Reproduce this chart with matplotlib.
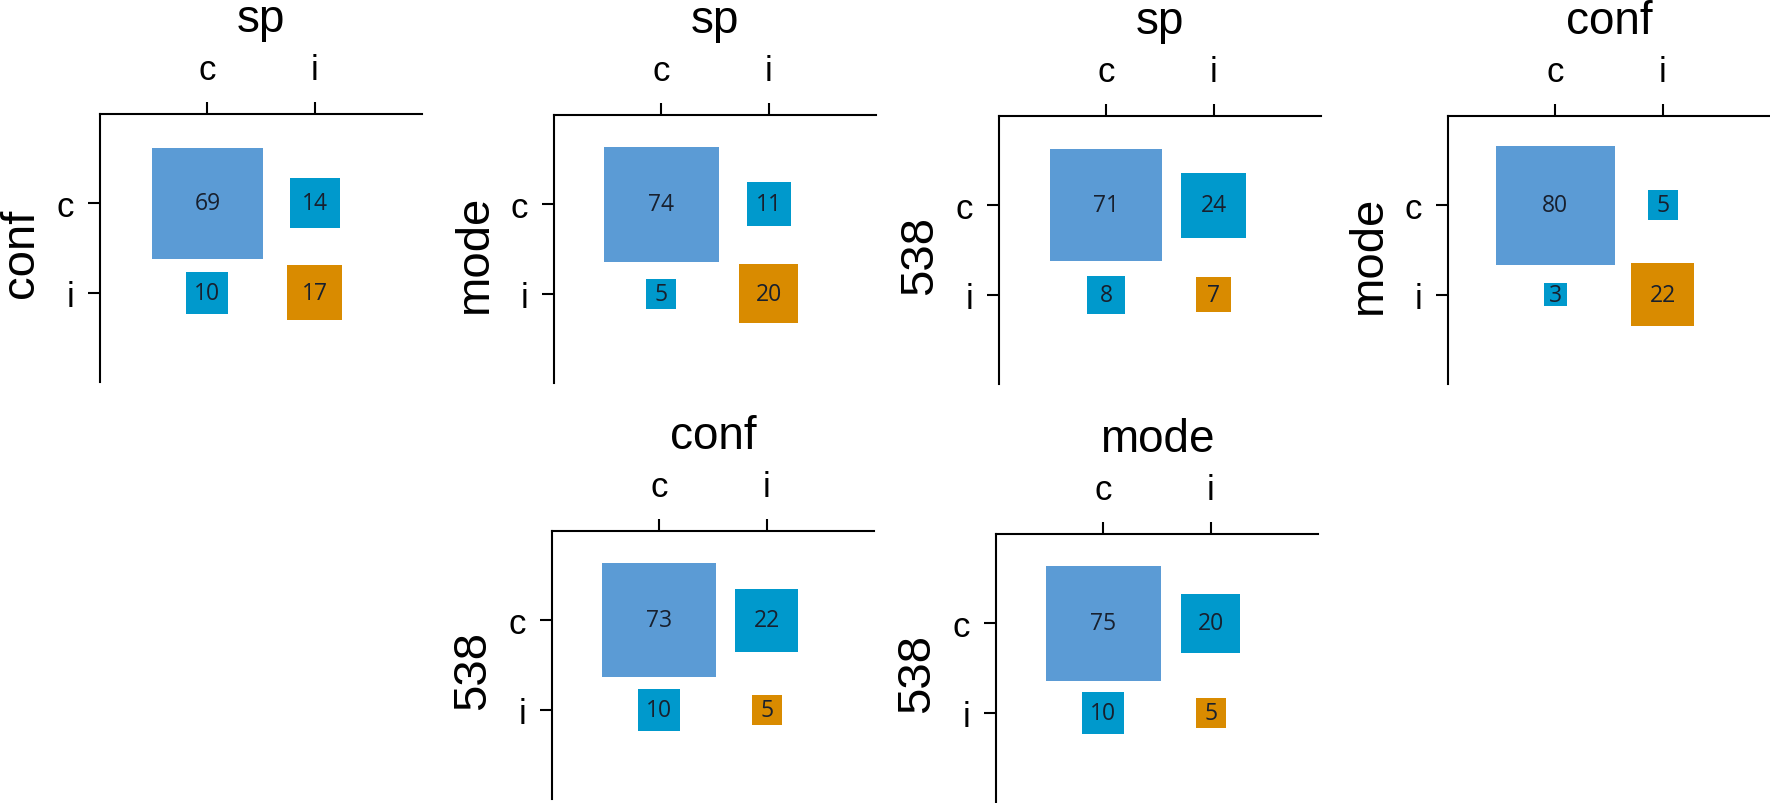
import matplotlib.pyplot as plt
import numpy as np

# categorie (c = correct, i = incorrect)
cats = ['c', 'i']

# kazdy panel: tytul (kolumny), etykieta y (wiersze), macierz
titles = ['sp', 'sp', 'sp', 'conf', 'conf', 'mode']
ylabels = ['conf', 'mode', '538', 'mode', '538', '538']
m1 = [[69, 14], [10, 17]]
m2 = [[74, 11], [5, 20]]
m3 = [[71, 24], [8, 7]]
m4 = [[80, 5], [3, 22]]
m5 = [[73, 22], [10, 5]]
m6 = [[75, 20], [10, 5]]
mats = [m1, m2, m3, m4, m5, m6]

col_cc = '#5B9BD5'   # c/c
col_off = '#0099CC'  # rozbieznosc
col_ii = '#D98B00'   # i/i
txt_col = '#18202E'

W, H = 1770, 804
# lewy gorny rog osi w pikselach
corners = [(100, 115), (554, 116), (999, 117), (1448, 117), (552, 532), (996, 535)]
aw, ah = 322, 268

fig = plt.figure(figsize=(W / 100, H / 100), dpi=100)

for k in range(6):
    x0, y0 = corners[k]
    ax = fig.add_axes([x0 / W, (H - y0 - ah) / H, aw / W, ah / H])
    m = np.array(mats[k])
    xs, ys, vals, cols = [], [], [], []
    for r in range(2):
        for c in range(2):
            xs.append(c)
            ys.append(r)
            vals.append(m[r, c])
            if r == 0 and c == 0:
                cols.append(col_cc)
            elif r == 1 and c == 1:
                cols.append(col_ii)
            else:
                cols.append(col_off)
    vals = np.array(vals)
    ax.scatter(xs, ys, s=92 * vals, marker='s', c=cols, linewidths=0, zorder=2)
    for x, y, v in zip(xs, ys, vals):
        ax.text(x, y, str(v), ha='center', va='center', fontsize=16.5,
                family='Open Sans', color=txt_col, zorder=3)

    ax.set_xlim(-1, 2)
    ax.set_ylim(2, -1)
    ax.set_xticks([0, 1])
    ax.set_xticklabels(cats)
    ax.set_yticks([0, 1])
    ax.set_yticklabels(cats)
    ax.xaxis.tick_top()
    for s in ['right', 'bottom']:
        ax.spines[s].set_visible(False)
    for s in ['top', 'left']:
        ax.spines[s].set_linewidth(1.5)
    ax.tick_params(axis='x', length=8.5, width=1.5, pad=12, labelsize=25)
    ax.tick_params(axis='y', length=8.5, width=1.5, pad=10, labelsize=25)
    for lab in ax.get_xticklabels() + ax.get_yticklabels():
        lab.set_family('Liberation Sans')

    ax.set_title(titles[k], y=1.31, pad=0, fontsize=33, family='Liberation Sans')
    ax.text(-0.208, 0.485, ylabels[k], rotation=90, rotation_mode='anchor',
            ha='center', va='baseline', fontsize=34, family='Liberation Sans',
            transform=ax.transAxes)

fig.savefig('out.png', dpi=100)
